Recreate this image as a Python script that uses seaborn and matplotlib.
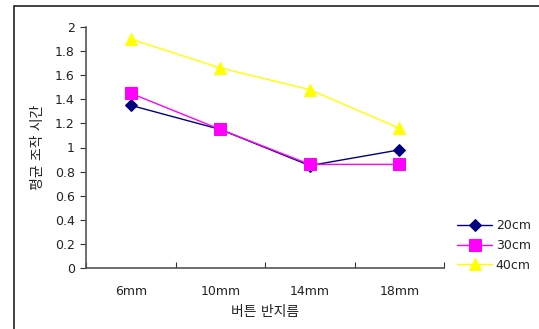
import matplotlib
matplotlib.use("Agg")
import matplotlib.pyplot as plt
from matplotlib.patches import Rectangle
import seaborn as sns
import pandas as pd

# Button radius categories and mean operation time per distance
radii = ["6mm", "10mm", "14mm", "18mm"]
t_20cm = [1.35, 1.15, 0.85, 0.98]
t_30cm = [1.45, 1.15, 0.86, 0.86]
t_40cm = [1.90, 1.66, 1.48, 1.16]
series_names = ["20cm", "30cm", "40cm"]

rows = []
for name, vals in zip(series_names, [t_20cm, t_30cm, t_40cm]):
    for i, v in enumerate(vals):
        rows.append({"pos": i, "radius": radii[i], "dist": name, "time": v})
df = pd.DataFrame(rows)

sns.set_theme(style="white")
plt.rcParams["font.family"] = ["DejaVu Sans", "Noto Sans CJK KR"]

fig = plt.figure(figsize=(5.39, 3.29), dpi=100)
ax = fig.add_axes([86 / 539, 1 - 268 / 329, (444 - 86) / 539, (268 - 27) / 329])

palette = {"20cm": "#000080", "30cm": "#FF00FF", "40cm": "#FFFF00"}
markers = {"20cm": "D", "30cm": "s", "40cm": "^"}
sizes = {"20cm": 6, "30cm": 8, "40cm": 8.5}

for name in series_names:
    sub = df[df["dist"] == name]
    sns.lineplot(data=sub, x="pos", y="time", color=palette[name], marker=markers[name],
                 markersize=sizes[name], markeredgecolor=palette[name], linewidth=1,
                 label=name, ax=ax)

fs = 9
ax.set_xlim(-0.5, 3.5)
ax.set_ylim(0, 2)
ax.set_yticks([0, 0.2, 0.4, 0.6, 0.8, 1, 1.2, 1.4, 1.6, 1.8, 2])
ax.set_yticklabels(["0", "0.2", "0.4", "0.6", "0.8", "1", "1.2", "1.4", "1.6", "1.8", "2"])
ax.set_xticks(range(len(radii)))
ax.set_xticklabels(radii)
ax.set_xticks([-0.5, 0.5, 1.5, 2.5, 3.5], minor=True)
ax.tick_params(axis="x", which="major", length=0, pad=12, labelsize=fs, colors="#222222")
ax.tick_params(axis="x", which="minor", direction="in", length=4, width=0.8, color="#333333", bottom=True)
ax.tick_params(axis="y", direction="out", length=4, width=0.8, color="#333333", left=True,
               labelsize=fs, labelcolor="#222222", pad=4)

for s in ["top", "right"]:
    ax.spines[s].set_visible(False)
for s in ["left", "bottom"]:
    ax.spines[s].set_color("#555555")
    ax.spines[s].set_linewidth(1.2)

ax.set_xlabel("버튼 반지름", fontsize=10, color="#222222", labelpad=5)
ax.set_ylabel("평균 조작 시간", fontsize=10, color="#222222", labelpad=7)

leg = ax.legend(loc="upper left", bbox_to_anchor=(452 / 539, 1 - 214 / 329),
                bbox_transform=fig.transFigure, frameon=False, fontsize=fs,
                handlelength=2.8, labelspacing=0.55, handletextpad=0.3, borderaxespad=0)

# Outer chart frame
fig.patches.append(Rectangle((14 / 539, -0.1), 1.2, 1 - 6 / 329 + 0.1,
                             transform=fig.transFigure, fill=False,
                             edgecolor="#222222", linewidth=1.2))

fig.savefig("out.png", dpi=100)
